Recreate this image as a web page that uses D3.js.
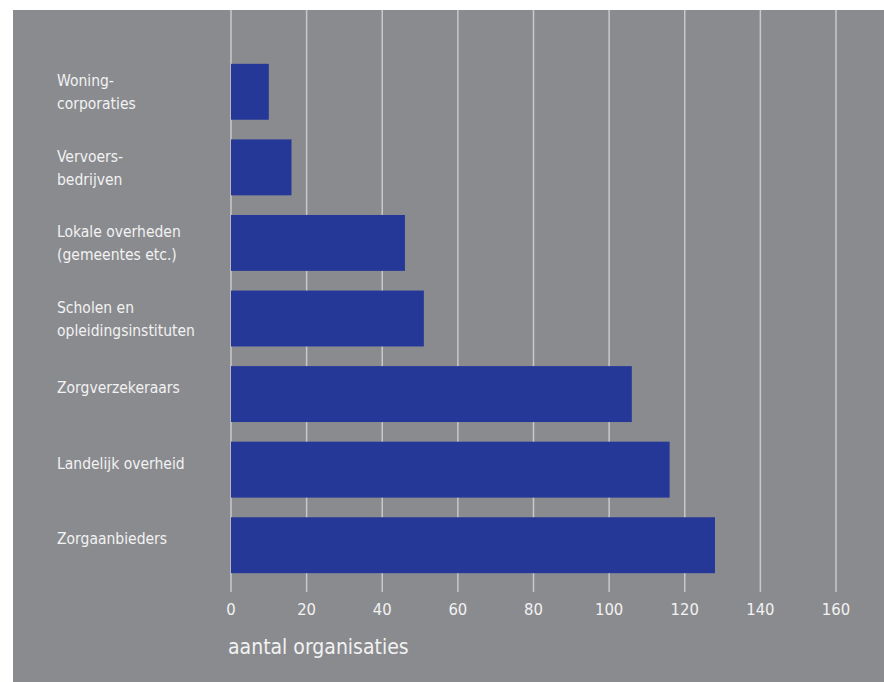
<!DOCTYPE html>
<html>
<head>
<meta charset="utf-8">
<script src="https://cdn.jsdelivr.net/npm/d3@7"></script>
<style>
  body { margin: 0; background: white; }
  svg { display: block; }
  text { font-family: 'Liberation Sans Narrow', 'DejaVu Sans Condensed', Roboto, sans-serif; fill: #f2f2f2; }
</style>
</head>
<body>
<div id="bigdiv"></div>
<script>
// categories, top to bottom (each label split in lines)
const categories = [
    ['Woning-', 'corporaties'],
    ['Vervoers-', 'bedrijven'],
    ['Lokale overheden', '(gemeentes etc.)'],
    ['Scholen en', 'opleidingsinstituten'],
    ['Zorgverzekeraars'],
    ['Landelijk overheid'],
    ['Zorgaanbieders']
]
const values = [10, 16, 46, 51, 106, 116, 128]
const ticks = [0, 20, 40, 60, 80, 100, 120, 140, 160]
const axisTitle = 'aantal organisaties'

const W = 884, H = 682

let svg = d3.select('div#bigdiv').append('svg')
    .attr('width', W).attr('height', H)

// grey panel
svg.append('rect')
    .attr('x', 13).attr('y', 10)
    .attr('width', W - 13).attr('height', H - 10)
    .attr('fill', '#8a8b8f')

let x = d3.scaleLinear().domain([0, 160]).range([231, 836])
let y = d3.scaleBand()
    .domain(d3.range(categories.length))
    .range([54, 583])
    .paddingInner(0.26)
    .paddingOuter(0.13)

// gridlines (behind the bars)
svg.append('g').selectAll('line')
    .data(ticks)
    .enter()
    .append('line')
    .attr('x1', d => x(d)).attr('x2', d => x(d))
    .attr('y1', 10).attr('y2', 592)
    .attr('stroke', '#c9c9cc')
    .attr('stroke-width', 1.5)

// bars
svg.append('g').selectAll('rect')
    .data(values)
    .enter()
    .append('rect')
    .attr('x', x(0))
    .attr('y', (d, i) => y(i))
    .attr('width', d => x(d) - x(0))
    .attr('height', y.bandwidth())
    .attr('fill', '#253897')

// category labels
let lab = svg.append('g').selectAll('text')
    .data(categories)
    .enter()
    .append('text')
    .attr('font-size', 15.5)
    .attr('x', 57)
    .attr('y', (d, i) => {
        let c = y(i) + y.bandwidth() / 2
        return d.length > 1 ? c - 11.5 + 6 : c - 7 + 6
    })
lab.selectAll('tspan')
    .data(d => d)
    .enter()
    .append('tspan')
    .attr('x', 57)
    .attr('dy', (d, i) => i === 0 ? 0 : 23)
    .text(d => d)

// tick labels
svg.append('g').selectAll('text')
    .data(ticks)
    .enter()
    .append('text')
    .attr('x', d => x(d))
    .attr('y', 615)
    .attr('text-anchor', 'middle')
    .attr('font-size', 16.5)
    .text(d => d)

svg.append('text')
    .attr('x', 228)
    .attr('y', 654)
    .attr('font-size', 21)
    .text(axisTitle)
</script>
</body>
</html>
